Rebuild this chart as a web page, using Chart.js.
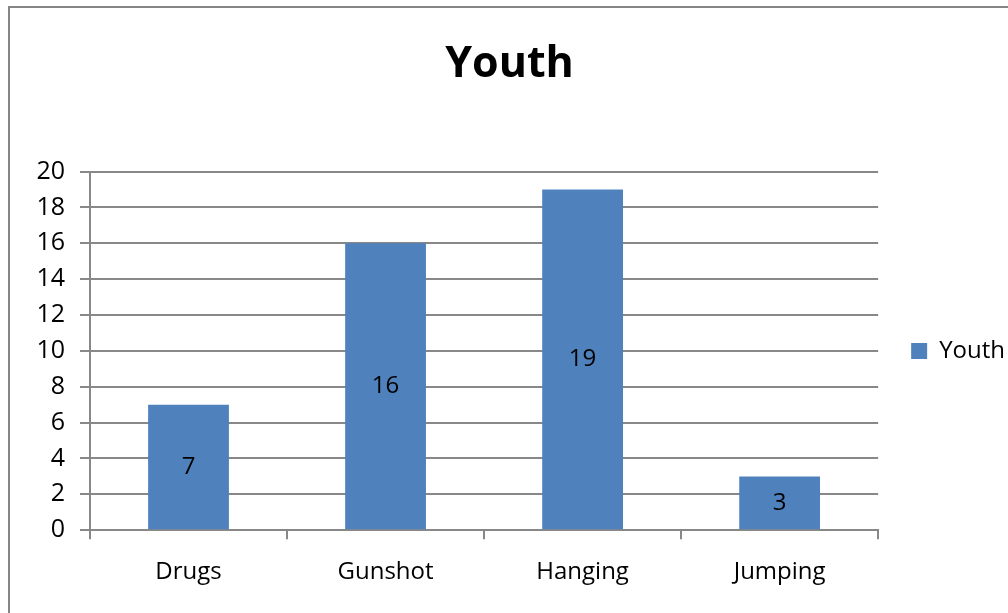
<!DOCTYPE html>
<html>
<head>
<meta charset="utf-8">
<title>Youth</title>
<script src="https://cdn.jsdelivr.net/npm/chart.js@4.4.0/dist/chart.umd.min.js"></script>
<style>
  html, body { margin: 0; padding: 0; background: #fff; }
  #wrap { width: 1008px; height: 613px; }
</style>
</head>
<body>
<div id="wrap"><canvas id="youthChart" width="1008" height="613"></canvas></div>
<script>
const categories = ['Drugs', 'Gunshot', 'Hanging', 'Jumping'];
const youthCounts = [7, 16, 19, 3];
const yTicks = [0, 2, 4, 6, 8, 10, 12, 14, 16, 18, 20];

const FONT = "'Open Sans', 'Liberation Sans', sans-serif";
const GRID = '#888888';

// white page with the grey outline of the chart frame
const frame = {
  id: 'frame',
  beforeDraw(chart) {
    const ctx = chart.ctx;
    ctx.save();
    ctx.fillStyle = '#fff';
    ctx.fillRect(0, 0, chart.width, chart.height);
    ctx.strokeStyle = '#868686';
    ctx.lineWidth = 2;
    ctx.strokeRect(9, 7, chart.width + 20, chart.height + 20);
    ctx.restore();
  }
};

// value written in the middle of each bar
const barValues = {
  id: 'barValues',
  afterDatasetsDraw(chart) {
    const ctx = chart.ctx;
    ctx.save();
    ctx.font = '24px ' + FONT;
    ctx.fillStyle = '#000';
    ctx.textAlign = 'center';
    ctx.textBaseline = 'middle';
    chart.getDatasetMeta(0).data.forEach((bar, i) => {
      ctx.fillText(String(chart.data.datasets[0].data[i]), bar.x, (bar.y + bar.base) / 2);
    });
    ctx.restore();
  }
};

const data = {
  labels: categories,
  datasets: [{
    label: 'Youth',
    data: youthCounts,
    backgroundColor: '#4F81BD',
    borderWidth: 0,
    categoryPercentage: 1,
    barPercentage: 0.41
  }]
};

const config = {
  type: 'bar',
  data,
  options: {
    responsive: false,
    animation: false,
    events: [],
    layout: { padding: { left: 4, right: -7, top: 0, bottom: 7 } },
    plugins: {
      title: {
        display: true,
        text: 'Youth',
        color: '#000',
        font: { family: FONT, size: 43, weight: 'bold', lineHeight: 1.2 },
        padding: { top: 39, bottom: 81 }
      },
      legend: {
        position: 'right',
        fullSize: false,
        labels: {
          color: '#000',
          font: { family: FONT, size: 24 },
          boxWidth: 16,
          boxHeight: 16,
          padding: 33
        }
      },
      tooltip: { enabled: false }
    },
    scales: {
      x: {
        grid: {
          display: true,
          drawOnChartArea: false,
          drawTicks: true,
          tickLength: 9,
          color: GRID,
          lineWidth: 2
        },
        border: { display: true, color: GRID, width: 2 },
        ticks: { color: '#000', font: { family: FONT, size: 24 }, padding: 19 }
      },
      y: {
        min: 0,
        max: 20,
        afterBuildTicks(scale) {
          scale.ticks = yTicks.map(v => ({ value: v }));
        },
        afterFit(scale) {
          scale.width = 86;
        },
        grid: { color: GRID, lineWidth: 2, tickLength: 10 },
        border: { display: true, color: GRID, width: 2 },
        ticks: { color: '#000', font: { family: FONT, size: 25 }, padding: 15 }
      }
    }
  },
  plugins: [frame, barValues]
};

const youthChart = new Chart(document.getElementById('youthChart'), config);
</script>
</body>
</html>
